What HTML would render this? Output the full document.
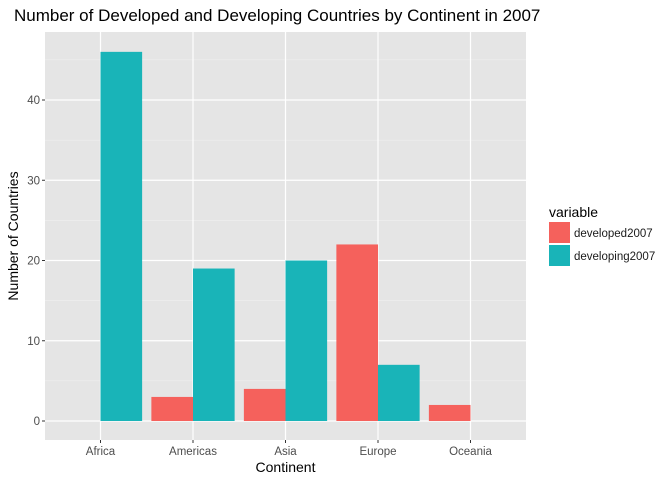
<!DOCTYPE html>
<html><head><meta charset="utf-8"><style>body{margin:0;background:#fff}svg{display:block;font-family:"Liberation Sans",sans-serif}</style></head>
<body>
<svg id="chart" width="672" height="480">
<text x="14" y="21" font-size="17" fill="#000">Number of Developed and Developing Countries by Continent in 2007</text>
<rect x="45" y="32" width="481" height="408" fill="#e5e5e5"/>
<g id="grid"></g><g id="bars"></g><g id="axes"></g>
<text x="285.5" y="472" font-size="14" text-anchor="middle" fill="#000">Continent</text>
<text transform="translate(18,236) rotate(-90)" font-size="14" text-anchor="middle" fill="#000">Number of Countries</text>
<g>
<text x="549" y="217" font-size="14" fill="#000">variable</text>
<g><rect x="549" y="222" width="21" height="21" fill="#f5615c"/><text x="574" y="237" font-size="11.5" fill="#1a1a1a">developed2007</text></g>
<g><rect x="549" y="245" width="21" height="21" fill="#19b4b8"/><text x="574" y="260" font-size="11.5" fill="#1a1a1a">developing2007</text></g>
</g>
</svg>
<script>
const categories=["Africa","Americas","Asia","Europe","Oceania"];
const developed=[0,3,4,22,2];
const developing=[46,19,20,7,0];
const yTicks=[0,10,20,30,40];
const NS="http://www.w3.org/2000/svg";
const L=45,R=526,T=32,B=440;
const step=(R-L)/(categories.length-1+1.2);
const x=i=>L+(0.6+i)*step;
const y0=421,unit=(421-100)/40;
const y=v=>y0-v*unit;
function mk(tag,attrs,parent){const e=document.createElementNS(NS,tag);for(const k in attrs)e.setAttribute(k,attrs[k]);parent.appendChild(e);return e;}
const grid=document.getElementById('grid'),bars=document.getElementById('bars'),axes=document.getElementById('axes');
const minorVals=yTicks.slice(0,-1).map((v,i)=>(v+yTicks[i+1])/2).concat([45]);
minorVals.forEach(v=>{const l=mk('line',{x1:L,x2:R,y1:y(v),y2:y(v),stroke:'#f2f2f2','stroke-width':0.6},grid);

});
yTicks.forEach(v=>{const l=mk('line',{x1:L,x2:R,y1:y(v),y2:y(v),stroke:'#fff','stroke-width':1.2},grid);


const t=mk('line',{x1:L-3,x2:L,y1:y(v),y2:y(v),stroke:'#333','stroke-width':1},axes);


const tx=mk('text',{x:L-5,y:y(v)+4,'font-size':11.5,'text-anchor':'end',fill:'#4d4d4d'},axes);tx.textContent=v;

});
const bw=step*0.45;
categories.forEach((c,i)=>{const cx=x(i);
const g=mk('line',{x1:cx,x2:cx,y1:T,y2:B,stroke:'#fff','stroke-width':1.2},grid);


const t=mk('line',{x1:cx,x2:cx,y1:B,y2:B+3,stroke:'#333','stroke-width':1},axes);


const tx=mk('text',{x:cx,y:B+15,'font-size':11.5,'text-anchor':'middle',fill:'#4d4d4d'},axes);tx.textContent=c;


if(developed[i]>0){const b=mk('rect',{x:cx-bw,y:y(developed[i]),width:bw,height:y0-y(developed[i]),fill:'#f5615c'},bars);

}
if(developing[i]>0){const b=mk('rect',{x:cx,y:y(developing[i]),width:bw,height:y0-y(developing[i]),fill:'#19b4b8'},bars);

}
});
</script>
</body></html>
